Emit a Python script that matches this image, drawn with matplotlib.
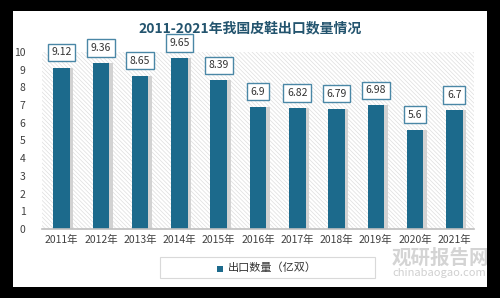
import matplotlib
matplotlib.use("Agg")
import matplotlib.pyplot as plt
from matplotlib.patches import Rectangle

plt.rcParams['font.family'] = ['Noto Sans CJK SC', 'DejaVu Sans']
plt.rcParams['hatch.linewidth'] = 0.5

years = ["2011年", "2012年", "2013年", "2014年", "2015年", "2016年",
         "2017年", "2018年", "2019年", "2020年", "2021年"]
values = [9.12, 9.36, 8.65, 9.65, 8.39, 6.9, 6.82, 6.79, 6.98, 5.6, 6.7]
value_labels = ["9.12", "9.36", "8.65", "9.65", "8.39", "6.9", "6.82", "6.79", "6.98", "5.6", "6.7"]
yticks = [0, 1, 2, 3, 4, 5, 6, 7, 8, 9, 10]
title = "2011-2021年我国皮鞋出口数量情况"
series_name = "出口数量（亿双）"

bar_color = "#1c6a8c"
fig = plt.figure(figsize=(5.0, 2.98), dpi=100)
fig.patch.set_facecolor("black")
fig.add_artist(Rectangle((13/500, 1-287/298), 474/500, 276/298,
                         transform=fig.transFigure, facecolor="white",
                         edgecolor="none", zorder=0))

ax = fig.add_axes([42/500, 1-229/298, 432/500, 177/298])
ax.set_facecolor("none")
ax.add_patch(Rectangle((-0.5, 0), 11, 10, facecolor="white", edgecolor="#dedede",
                       linewidth=0, hatch="\\\\\\\\\\\\\\\\", zorder=0))
x = list(range(len(years)))
# shadow
ax.bar([i + 0.05 for i in x], values, width=0.5, color="#d2d2d2", zorder=1)
ax.bar(x, values, width=0.42, color=bar_color, zorder=2)
ax.set_xlim(-0.5, 10.5)
ax.set_ylim(0, 10)
ax.set_yticks(yticks)
ax.set_xticks(x)
ax.set_xticklabels(years)
ax.tick_params(axis="both", length=0, labelsize=7.5, colors="#404040")
ax.tick_params(axis="y", pad=12)
ax.tick_params(axis="x", pad=4)
for s in ["top", "right", "left"]:
    ax.spines[s].set_visible(False)
ax.spines["bottom"].set_color("#bfbfbf")
ax.spines["bottom"].set_linewidth(1.2)

for i, (v, lab) in enumerate(zip(values, value_labels)):
    ax.annotate(lab, (i, v), xytext=(0, 11), textcoords="offset points",
                ha="center", va="center", fontsize=7.5, color="#333333",
                bbox=dict(boxstyle="square,pad=0.35", facecolor="white",
                          edgecolor="#4a87a6", linewidth=1.0), zorder=5)

fig.text(0.5, 1-28/298, title, ha="center", va="center", fontsize=10,
         fontweight="bold", color="#23546e")

# legend
fig.add_artist(Rectangle((160/500, 1-278/298), 215/500, 21/298,
                         transform=fig.transFigure, facecolor="white",
                         edgecolor="#d9d9d9", linewidth=0.8, zorder=2))
fig.add_artist(Rectangle((217/500, 1-272/298), 6/500, 6/298,
                         transform=fig.transFigure, facecolor=bar_color,
                         edgecolor="none", zorder=3))
fig.text(228/500, 1-267.5/298, series_name, ha="left", va="center",
         fontsize=8, color="#333333", zorder=3)

# watermark
fig.text(392/500, 1-258/298, "观研报告网", ha="left", va="center",
         fontsize=14, fontweight="bold", color="#d4d4d4", zorder=4)
fig.text(392/500, 1-273/298, "chinabaogao.com", ha="left", va="center",
         fontsize=8, color="#cfcfcf", zorder=4)

fig.savefig("out.png", dpi=100, facecolor=fig.get_facecolor())
